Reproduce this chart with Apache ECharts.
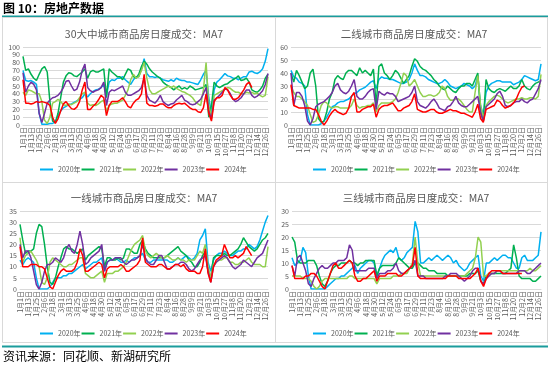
<!DOCTYPE html>
<html><head><meta charset="utf-8">
<script src="https://cdn.jsdelivr.net/npm/echarts@6/dist/echarts.min.js"></script>
<style>html,body{margin:0;padding:0;background:#fff}#c{width:550px;height:365px}</style>
</head><body><div id="c"></div>
<script>
// categories: every 4th day of the (leap) year
const categories = ['1月1日','1月5日','1月9日','1月13日','1月17日','1月21日','1月25日','1月29日','2月2日','2月6日','2月10日','2月14日',
'2月18日','2月22日','2月26日','3月1日','3月5日','3月9日','3月13日','3月17日','3月21日','3月25日','3月29日','4月2日',
'4月6日','4月10日','4月14日','4月18日','4月22日','4月26日','4月30日','5月4日','5月8日','5月12日','5月16日','5月20日',
'5月24日','5月28日','6月1日','6月5日','6月9日','6月13日','6月17日','6月21日','6月25日','6月29日','7月3日','7月7日',
'7月11日','7月15日','7月19日','7月23日','7月27日','7月31日','8月4日','8月8日','8月12日','8月16日','8月20日','8月24日',
'8月28日','9月1日','9月5日','9月9日','9月13日','9月17日','9月21日','9月25日','9月29日','10月3日','10月7日','10月11日',
'10月15日','10月19日','10月23日','10月27日','10月31日','11月4日','11月8日','11月12日','11月16日','11月20日','11月24日','11月28日',
'12月2日','12月6日','12月10日','12月14日','12月18日','12月22日','12月26日','12月30日'];
const seriesNames = ['2020年','2021年','2022年','2023年','2024年'];
const seriesColors = ['#00B0F0','#00B050','#92D050','#7030A0','#FF0000'];

// 30大中城市
const c30_2020 = [70,57,56,57,55,52,15,1,1,1,2,2, 4,12,18,22,24,26,27,29,31,33,35,40, 36,40,43,45,46,48,52,38,55,58,57,60, 60,62,58,55,52,58,62,62,72,85,66,62, 62,61,62,60,58,57,56,58,56,60,58,57, 57,55,55,54,53,52,58,65,70,35,15,45, 55,58,62,66,63,62,60,60,58,60,62,62, 68,69,67,66,68,72,82,98];
const c30_2021 = [88,70,72,65,60,57,65,72,75,68,30,5, 3,15,35,55,63,67,66,63,62,65,68,72, 60,68,70,68,68,70,72,35,72,68,65,62, 62,58,65,72,70,62,60,65,75,82,78,72, 68,65,62,60,55,52,50,48,45,48,50,46, 48,46,50,48,45,46,47,48,52,10,25,55, 50,48,50,52,53,56,58,60,63,57,58,60, 55,45,43,42,45,50,60,65];
const c30_2022 = [42,38,45,44,42,40,40,30,6,2,10,28, 30,33,30,26,25,27,26,28,30,35,40,42, 28,25,26,25,27,30,32,18,25,27,28,28, 30,32,38,45,58,65,60,62,70,80,60,45, 40,40,42,44,46,48,50,48,50,47,45,43, 42,40,38,35,30,27,25,45,80,25,10,38, 40,42,44,46,48,47,44,42,42,40,40,42, 41,42,40,41,38,36,38,62];
const c30_2023 = [67,42,50,55,52,45,15,3,15,28,32,35, 36,38,42,48,56,57,50,44,46,55,70,78, 48,44,42,44,45,48,55,25,42,45,44,46, 48,50,42,38,38,40,42,44,48,60,38,32, 30,28,32,38,30,27,25,27,28,32,35,38, 32,30,27,26,27,30,33,40,48,18,8,32, 35,38,42,46,45,40,33,30,32,35,40,45, 45,38,35,37,40,44,52,66];
const c30_2024 = [58,28,28,27,28,30,29,30,29,28,25,10, 2,8,18,27,30,25,21,20,23,30,45,55, 20,20,24,27,32,38,35,12,25,30,30,30, 32,35,30,24,22,28,32,34,40,65,28,25, 25,24,25,27,27,24,22,22,25,27,28,27, 28,25,22,20,20,17,16,22,40,15,5,30, 35,35,38,48,45,38,33,33,35,40,45,52, 55,48];

// 二线城市
const t2_2020 = [42,37,36,33,32,30,8,0,0,0,0,1, 3,6,10,14,15,17,18,18,19,20,22,24, 25,27,28,29,31,33,34,28,35,37,36,36, 35,35,34,33,32,32,33,35,40,47,42,38, 38,37,35,34,33,32,32,33,35,33,30,29, 28,29,30,32,31,30,28,30,38,15,8,25, 30,32,33,34,34,33,33,33,33,31,32,33, 35,38,37,36,35,34,35,47];
const t2_2021 = [40,33,42,38,33,28,30,40,43,30,5,2, 3,10,20,25,35,38,36,35,40,42,42,40, 38,44,40,42,40,38,43,15,45,47,40,38, 35,38,42,40,36,32,35,38,45,51,49,45, 43,42,40,38,35,33,30,28,27,30,28,26, 25,28,30,30,32,32,30,35,40,10,3,35, 28,26,25,27,28,27,26,28,30,28,28,30, 35,30,28,27,30,32,33,34];
const t2_2022 = [30,25,22,22,20,18,15,8,2,3,8,15, 18,17,14,13,14,14,13,13,13,13,15,20, 15,13,14,14,15,15,17,10,15,17,17,17, 17,18,20,25,32,40,38,30,32,35,30,25, 22,22,23,23,22,23,25,30,28,22,19,19, 20,20,18,15,12,10,10,25,38,15,5,15, 18,20,22,23,22,20,18,17,18,19,20,20, 21,20,20,21,21,20,22,39];
const t2_2023 = [40,15,25,25,22,15,3,0,5,14,16,17, 18,20,22,25,30,32,27,25,24,26,30,35, 22,20,20,22,25,27,28,12,26,24,23,25, 24,24,22,18,19,20,21,22,25,30,18,15, 14,13,15,18,20,17,13,12,11,14,15,18, 22,17,15,14,14,16,18,20,22,10,3,14, 16,18,20,24,26,22,15,14,15,17,18,18, 20,18,17,19,20,24,28,35];
const t2_2024 = [31,15,14,13,13,13,13,13,12,12,8,3, 0,3,7,10,12,10,9,8,9,13,22,25, 10,10,12,13,14,14,16,6,12,14,15,15, 16,17,14,11,11,13,14,15,18,24,12,11, 10,10,11,12,12,10,9,9,10,11,12,11, 11,10,9,9,8,7,6,10,16,5,2,12, 13,14,15,19,18,15,13,14,15,17,20,25, 29,30];

// 一线城市
const t1_2020 = [13,11,13,14,13,12,5,0,0,0,0,1, 3,5,5,5,6,6,7,7,8,9,10,11, 9,10,11,12,12,13,14,8,12,13,13,14, 13,12,12,13,12,13,14,14,15,16,13,12, 12,13,13,13,13,13,13,12,12,13,14,13, 14,15,14,13,14,16,22,24,27,12,8,13, 15,16,16,17,16,15,15,16,17,17,18,18, 20,19,18,19,22,26,30,33];
const t1_2021 = [29,22,16,17,17,18,25,29,28,20,10,3, 2,5,10,14,18,19,18,18,17,16,17,18, 13,15,16,17,18,19,18,10,14,14,13,13, 14,13,14,18,18,17,16,16,20,22,18,16, 15,14,14,14,14,14,15,16,17,18,19,17, 16,15,13,12,10,10,12,15,17,8,5,14, 15,15,15,16,15,15,16,17,18,20,23,21, 19,18,17,18,20,22,23,25];
const t1_2022 = [23,12,15,16,17,15,13,10,3,2,5,12, 14,13,12,11,10,10,11,11,12,13,14,14, 7,6,5,5,6,7,8,3,7,7,7,8, 8,9,10,12,15,18,20,21,22,24,17,15, 14,15,16,15,14,14,15,14,13,13,14,13, 13,12,13,13,13,15,17,16,20,10,5,11, 12,13,13,14,14,12,12,11,11,12,12,13, 14,12,11,11,11,10,10,19];
const t1_2023 = [20,14,17,17,14,8,2,0,3,8,11,11, 12,14,13,12,14,18,20,17,16,20,26,20, 11,12,14,15,16,17,20,8,12,13,13,14, 14,14,12,11,12,13,13,14,15,20,14,12, 11,11,13,15,15,12,9,9,10,11,11,12, 12,11,9,8,9,11,13,14,15,8,3,10, 12,13,14,15,14,12,10,9,10,11,13,12, 11,10,12,14,15,16,19,22];
const t1_2024 = [19,10,10,10,11,11,11,10,10,9,5,1, 0,3,6,8,9,8,8,8,9,12,18,15, 8,8,9,10,11,12,11,5,9,10,10,10, 10,11,10,8,8,9,10,11,13,23,12,11, 10,10,10,11,11,10,9,9,10,11,11,10, 11,9,8,8,8,7,7,10,18,7,3,10, 13,14,15,20,17,14,14,15,14,15,16,19, 17,15];

// 三线城市
const t3_2020 = [12,9,10,11,16,14,5,0,0,0,0,0, 0,1,2,3,4,4,5,5,6,7,8,9, 6,8,9,10,11,11,10,5,8,11,13,14, 15,14,16,12,11,12,14,15,16,26,22,10, 10,11,12,11,12,13,12,11,12,13,12,10, 11,9,8,7,8,10,11,12,13,5,3,10, 10,11,12,11,12,13,13,12,12,10,8,8, 12,13,11,11,11,12,13,22];
const t3_2021 = [20,18,11,10,10,10,11,11,11,9,5,2, 1,3,6,8,9,9,10,10,10,11,10,10, 9,10,10,11,11,11,11,5,8,9,9,9, 9,9,10,12,11,10,9,8,8,10,10,9, 8,8,7,7,7,6,6,6,6,5,5,5, 5,5,5,5,5,6,6,6,7,3,2,5, 6,6,6,6,6,6,6,7,8,17,12,5, 4,4,4,4,3,3,4,5];
const t3_2022 = [5,5,5,5,4,4,4,3,1,0,1,3, 4,4,4,4,4,4,4,4,4,5,5,4, 4,4,4,4,4,4,4,2,4,4,4,4, 4,5,5,5,6,6,6,8,10,20,10,5, 5,5,5,5,5,5,5,5,5,5,5,5, 5,5,5,5,6,7,8,12,20,18,5,5, 6,6,6,7,7,7,7,7,7,7,7,7, 7,7,7,8,7,7,8,9];
const t3_2023 = [9,5,12,13,10,7,2,1,4,6,8,9, 8,8,9,10,10,11,11,11,12,17,15,7, 7,7,7,7,8,8,8,4,6,6,6,7, 7,8,10,7,6,6,7,8,9,11,5,5, 5,4,4,4,4,4,4,4,5,5,6,6, 6,5,4,3,4,5,7,8,8,3,2,4, 5,6,6,7,7,6,6,6,6,6,6,7, 7,7,6,6,7,8,9,10];
const t3_2024 = [9,4,4,4,4,5,5,6,6,5,3,1, 0,3,6,9,10,8,8,9,10,11,10,5, 3,3,4,4,5,6,7,3,5,5,5,6, 6,6,6,5,5,6,7,8,9,16,5,4, 4,4,4,4,4,4,4,4,4,5,5,5, 5,4,4,4,4,4,5,6,8,3,1,4, 6,7,7,7,7,6,6,6,6,6,6,6, 6];

const panels = [
  {title:'30大中城市商品房日度成交：MA7', data:[c30_2020,c30_2021,c30_2022,c30_2023,c30_2024], max:100, interval:10,
   grid:{left:23, top:47, width:245, height:78}, tx:139, ty:24, lx:40, ly:166},
  {title:'二线城市商品房日度成交：MA7', data:[t2_2020,t2_2021,t2_2022,t2_2023,t2_2024], max:60, interval:10,
   grid:{left:291, top:47, width:250, height:78}, tx:409, ty:24, lx:313, ly:166},
  {title:'一线城市商品房日度成交：MA7', data:[t1_2020,t1_2021,t1_2022,t1_2023,t1_2024], max:35, interval:5,
   grid:{left:20, top:211, width:248, height:78}, tx:139, ty:188, lx:40, ly:330},
  {title:'三线城市商品房日度成交：MA7', data:[t3_2020,t3_2021,t3_2022,t3_2023,t3_2024], max:30, interval:5,
   grid:{left:292, top:211, width:249, height:78}, tx:411, ty:188, lx:313, ly:330}
];

const FONT = '"Noto Sans CJK SC", "Noto Sans", sans-serif';
const grey = '#595959';
const option = {animation:false, title:[], grid:[], xAxis:[], yAxis:[], legend:[], series:[], graphic:[]};
panels.forEach((p, i) => {
  option.title.push({text:p.title, left:p.tx, top:p.ty, textAlign:'center',
    textStyle:{fontSize:10.5, fontWeight:'normal', color:grey, fontFamily:FONT}});
  option.grid.push(p.grid);
  option.xAxis.push({type:'category', gridIndex:i, data:categories, boundaryGap:false,
    axisTick:{show:false}, axisLine:{lineStyle:{color:'#d9d9d9'}},
    axisLabel:{rotate:90, interval:2, fontSize:7, color:grey, margin:2, fontFamily:FONT}});
  option.yAxis.push({type:'value', gridIndex:i, min:0, max:p.max, interval:p.interval,
    axisLine:{show:false}, axisTick:{show:false},
    axisLabel:{fontSize:7, color:grey, margin:3, fontFamily:FONT},
    splitLine:{lineStyle:{color:'#d9d9d9', width:1}}});
  option.legend.push({data:seriesNames, left:p.lx, top:p.ly, width:230, orient:'horizontal',
    icon:'rect', itemWidth:13, itemHeight:2, itemGap:1, padding:0,
    textStyle:{fontSize:7, color:grey, fontFamily:FONT}});
  p.data.forEach((d, k) => {
    option.series.push({name:seriesNames[k], type:'line', xAxisIndex:i, yAxisIndex:i, data:d,
      symbol:'none', showSymbol:false, z: 2 + k,
      lineStyle:{width:1.5, color:seriesColors[k]}, itemStyle:{color:seriesColors[k]}});
  });
});
option.graphic = [
  {type:'text', left:3, top:2, style:{text:'图 10：房地产数据', font:'bold 12px "Noto Sans CJK SC"', fill:'#000'}},
  {type:'line', shape:{x1:2, y1:16.5, x2:548, y2:16.5}, style:{stroke:'#1a9c9c', lineWidth:2}},
  {type:'rect', shape:{x:2.5, y:17.5, width:545, height:325}, style:{fill:null, stroke:'#d9d9d9', lineWidth:1}},
  {type:'line', shape:{x1:275.5, y1:17.5, x2:275.5, y2:342.5}, style:{stroke:'#d9d9d9', lineWidth:1}},
  {type:'line', shape:{x1:2.5, y1:182.5, x2:547.5, y2:182.5}, style:{stroke:'#d9d9d9', lineWidth:1}},
  {type:'line', shape:{x1:2, y1:346.5, x2:548, y2:346.5}, style:{stroke:'#1a9c9c', lineWidth:2}},
  {type:'text', left:3, top:350, style:{text:'资讯来源：同花顺、新湖研究所', font:'12px "Noto Sans CJK SC"', fill:'#000'}}
];
const chart = echarts.init(document.getElementById('c'), null, {renderer:'canvas'});
chart.setOption(option);
</script></body></html>
